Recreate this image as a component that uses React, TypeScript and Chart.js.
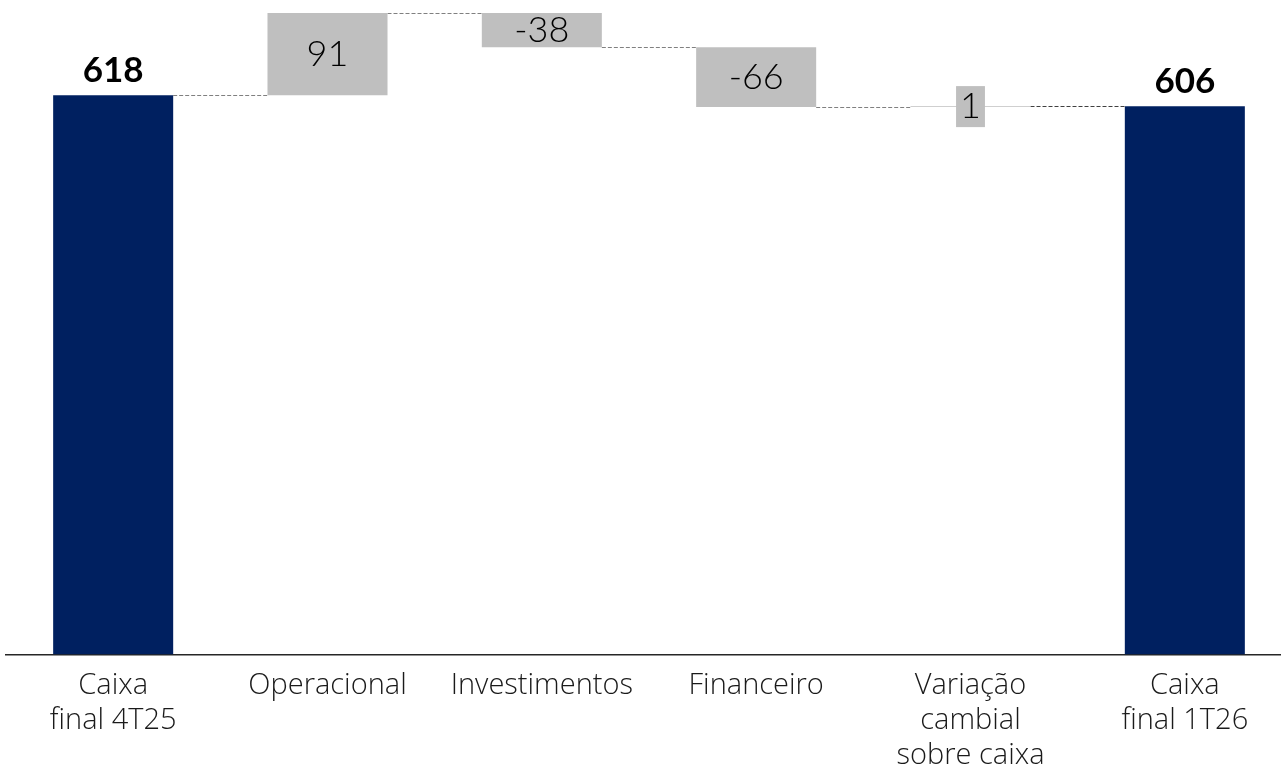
import React, { useEffect, useRef } from "react";
import { Chart, registerables } from "chart.js";

Chart.register(...registerables);

const categories: string[][] = [
  ["Caixa", "final 4T25"],
  ["Operacional"],
  ["Investimentos"],
  ["Financeiro"],
  ["Variação", "cambial", "sobre caixa"],
  ["Caixa", "final 1T26"],
];
const values: number[] = [618, 91, -38, -66, 1, 606];
const isTotal: boolean[] = [true, false, false, false, false, true];
const valueLabels: string[] = ["618", "91", "-38", "-66", "1", "606"];

const NAVY = "#002060";
const GRAY = "#BFBFBF";
const FONT = "Lato, 'Open Sans', sans-serif";
const TICK_FONT = "'Open Sans', 'DejaVu Sans', sans-serif";

function buildRanges() {
  const ranges: [number, number][] = [];
  const levels: number[] = [];
  let run = 0;
  values.forEach((v, i) => {
    if (isTotal[i]) {
      ranges.push([0, v]);
      run = v;
    } else {
      ranges.push([run, run + v]);
      run = run + v;
    }
    levels.push(run);
  });
  return { ranges, levels };
}

const waterfallPlugin = {
  id: "waterfallDecor",
  beforeDatasetsDraw(chart: any) {
    const { ctx } = chart;
    const meta = chart.getDatasetMeta(0);
    const y = chart.scales.y;
    const { levels } = buildRanges();
    ctx.save();
    ctx.lineWidth = 1;
    ctx.setLineDash([4, 2]);
    for (let i = 0; i < meta.data.length - 1; i++) {
      const a = meta.data[i];
      const b = meta.data[i + 1];
      const py = Math.round(y.getPixelForValue(levels[i])) + 0.5;
      ctx.strokeStyle = i === meta.data.length - 2 ? "#404040" : "#808080";
      ctx.beginPath();
      ctx.moveTo(a.x + a.width / 2, py);
      ctx.lineTo(b.x - b.width / 2, py);
      ctx.stroke();
    }
    ctx.restore();
  },
  afterDatasetsDraw(chart: any) {
    const { ctx } = chart;
    const meta = chart.getDatasetMeta(0);
    ctx.save();
    meta.data.forEach((el: any, i: number) => {
      const top = Math.min(el.y, el.base);
      const bottom = Math.max(el.y, el.base);
      const label = valueLabels[i];
      if (isTotal[i]) {
        ctx.font = `700 35px ${FONT}`;
        ctx.fillStyle = "#000000";
        ctx.textAlign = "center";
        ctx.textBaseline = "alphabetic";
        ctx.fillText(label, el.x, top - 13);
      } else {
        ctx.font = `300 36px ${FONT}`;
        const cy = (top + bottom) / 2;
        if (bottom - top < 20) {
          const w = ctx.measureText(label).width + 8;
          const h = 41;
          ctx.fillStyle = GRAY;
          ctx.fillRect(el.x - w / 2, cy - h / 2, w, h);
        }
        ctx.fillStyle = "#000000";
        ctx.textAlign = "center";
        ctx.textBaseline = "middle";
        ctx.fillText(label, el.x, cy);
      }
    });
    ctx.restore();
  },
};

export default function App() {
  const ref = useRef<HTMLCanvasElement | null>(null);

  useEffect(() => {
    if (!ref.current) return;
    const { ranges } = buildRanges();
    const chart = new Chart(ref.current, {
      type: "bar",
      data: {
        labels: categories,
        datasets: [
          {
            data: ranges as any,
            backgroundColor: values.map((_, i) => (isTotal[i] ? NAVY : GRAY)),
            borderWidth: 0,
            barPercentage: 0.56,
            categoryPercentage: 1,
          },
        ],
      },
      options: {
        animation: false,
        responsive: false,
        maintainAspectRatio: false,
        devicePixelRatio: 1,
        layout: { padding: { top: 3, left: 6, right: 0, bottom: 0 } },
        plugins: {
          legend: { display: false },
          tooltip: { enabled: false },
          title: { display: false },
        },
        scales: {
          x: {
            grid: { display: false, drawTicks: false },
            border: { display: true, color: "#262626", width: 1.5 },
            ticks: {
              color: "#1a1a1a",
              font: { family: TICK_FONT, size: 29, weight: "300" as any, lineHeight: 1.2 },
              padding: 14,
              maxRotation: 0,
              autoSkip: false,
            },
            afterFit(scale: any) {
              scale.height = 114.5;
            },
          },
          y: {
            display: false,
            min: 0,
            max: 720,
          },
        },
      },
      plugins: [waterfallPlugin],
    });
    return () => chart.destroy();
  }, []);

  return (
    <div
      style={{
        position: "fixed",
        left: 0,
        top: 0,
        width: 1281,
        height: 769,
        overflow: "hidden",
        background: "#ffffff",
      }}
    >
      <canvas ref={ref} width={1292} height={769} style={{ width: 1292, height: 769, display: "block" }} />
    </div>
  );
}
